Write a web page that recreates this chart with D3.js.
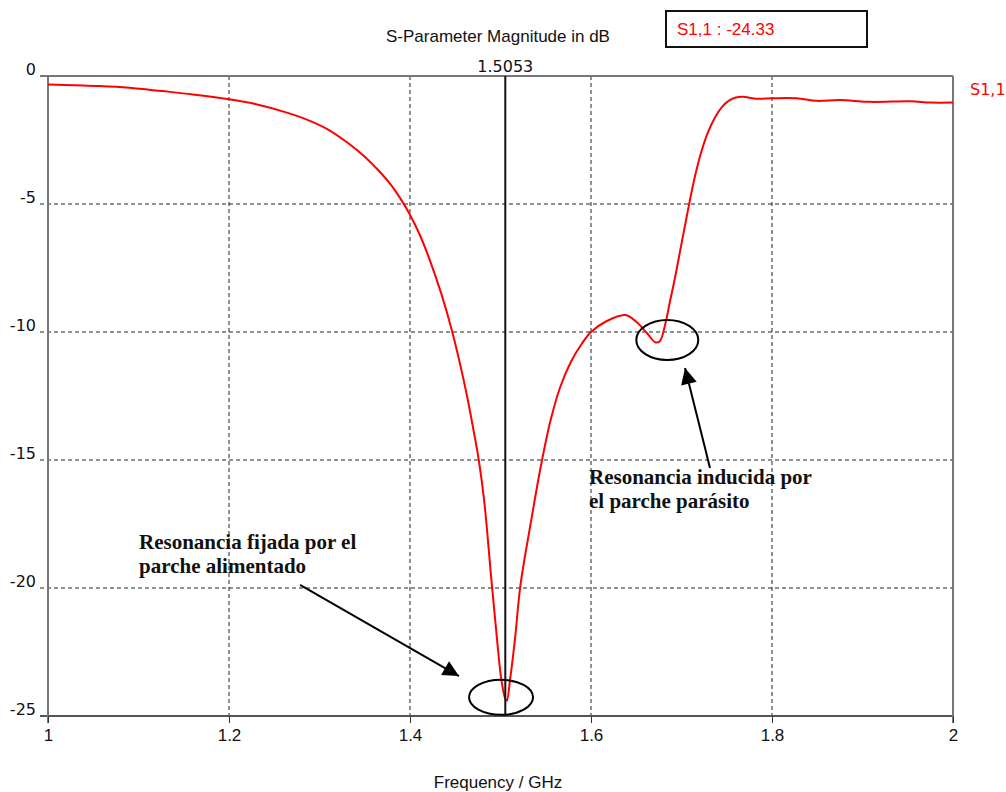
<!DOCTYPE html>
<html>
<head>
<meta charset="utf-8">
<script src="https://cdn.jsdelivr.net/npm/d3@7"></script>
<style>
  html, body { margin: 0; padding: 0; background: #fff; }
  svg { display: block; }
  .narrow { font-family: "Liberation Sans", Arial, sans-serif; }
  .wide { font-family: "DejaVu Sans", Verdana, sans-serif; }
  .note { font-family: "Liberation Serif", "Times New Roman", serif; font-weight: bold; }
</style>
</head>
<body>
<svg id="chart" width="1006" height="792"></svg>
<script>
// S11 reflection coefficient of the stacked patch antenna (dB vs GHz)
const freqGHz = [
  1.000, 1.030, 1.057, 1.090, 1.126, 1.160, 1.200, 1.230, 1.264, 1.290,
  1.310, 1.330, 1.350, 1.365, 1.380, 1.390, 1.400, 1.411, 1.422, 1.435,
  1.446, 1.455, 1.463, 1.470, 1.476, 1.482, 1.490, 1.496, 1.501, 1.5053,
  1.507, 1.5105, 1.516, 1.522, 1.533, 1.544, 1.555, 1.566, 1.578, 1.590,
  1.600, 1.617, 1.638, 1.650, 1.662, 1.671, 1.676, 1.682, 1.687, 1.693,
  1.700, 1.706, 1.711, 1.716, 1.722, 1.729, 1.737, 1.745, 1.752, 1.760,
  1.768, 1.783, 1.800, 1.827, 1.849, 1.875, 1.908, 1.953, 1.975, 2.000
];
const s11dB = [
  -0.33, -0.36, -0.39, -0.46, -0.59, -0.72, -0.91, -1.10, -1.43, -1.76,
  -2.10, -2.58, -3.15, -3.68, -4.30, -4.82, -5.42, -6.22, -7.20, -8.55,
  -9.90, -11.20, -12.50, -13.80, -15.00, -16.60, -19.70, -21.95, -23.60, -24.33,
  -24.40, -23.60, -22.00, -19.90, -17.55, -15.35, -13.50, -12.15, -11.15, -10.45,
  -10.00, -9.58, -9.34, -9.60, -10.05, -10.40, -10.36, -9.70, -8.85, -7.85,
  -6.55, -5.45, -4.55, -3.75, -2.95, -2.22, -1.62, -1.20, -0.97, -0.84,
  -0.81, -0.89, -0.87, -0.87, -0.97, -0.94, -1.01, -0.99, -1.04, -1.04
];
const xTicks = [1, 1.2, 1.4, 1.6, 1.8, 2];
const xTickLabels = ["1", "1.2", "1.4", "1.6", "1.8", "2"];
const yTicks = [0, -5, -10, -15, -20, -25];
const yTickLabels = ["0", "-5", "-10", "-15", "-20", "-25"];

const markerFreq = 1.5053;
const markerValue = -24.33;

const chartTitle = "S-Parameter Magnitude in dB";
const xTitle = "Frequency / GHz";
const seriesName = "S1,1";

// annotations in data units: ellipse centres, arrows and captions
const ellipses = [
  { f: 1.5006, db: -24.27, rx: 32, ry: 17.5 },
  { f: 1.6843, db: -10.31, rx: 31, ry: 20 }
];
const arrows = [
  { f0: 1.2785, db0: -19.88, f1: 1.4541, db1: -23.44 },
  { f0: 1.7315, db0: -15.31, f1: 1.7039, db1: -11.41 }
];
const captions = [
  { f: 1.1006, db: -18.48, lines: ["Resonancia fijada por el", "parche alimentado"] },
  { f: 1.5978, db: -15.92, lines: ["Resonancia inducida por", "el parche parásito"] }
];

const svg = d3.select("#chart");
const plotL = 48, plotR = 953, plotT = 76, plotB = 716;

const x = d3.scaleLinear().domain([1, 2]).range([plotL, plotR]);
const y = d3.scaleLinear().domain([-25, 0]).range([plotB, plotT]);

// dashed grid
const grid = svg.append("g");
grid.selectAll("line.gx").data(xTicks.slice(1, -1)).join("line")
  .attr("x1", d => x(d)).attr("x2", d => x(d))
  .attr("y1", plotT).attr("y2", plotB)
  .attr("stroke", "#222").attr("stroke-width", 1).attr("stroke-dasharray", "4,3");
grid.selectAll("line.gy").data(yTicks.slice(1, -1)).join("line")
  .attr("x1", plotL - 8).attr("x2", plotR)
  .attr("y1", d => y(d)).attr("y2", d => y(d))
  .attr("stroke", "#222").attr("stroke-width", 1).attr("stroke-dasharray", "4,3");

// frame
svg.append("line").attr("x1", plotL - 8).attr("x2", plotR).attr("y1", y(0)).attr("y2", y(0))
  .attr("stroke", "#777").attr("stroke-width", 2);
svg.append("line").attr("x1", plotL - 8).attr("x2", plotR).attr("y1", y(-25)).attr("y2", y(-25))
  .attr("stroke", "#555").attr("stroke-width", 2);
svg.append("line").attr("x1", x(1)).attr("x2", x(1)).attr("y1", plotT).attr("y2", plotB + 7)
  .attr("stroke", "#777").attr("stroke-width", 2);
svg.append("line").attr("x1", x(2)).attr("x2", x(2)).attr("y1", plotT).attr("y2", plotB + 7)
  .attr("stroke", "#777").attr("stroke-width", 2);

// x axis ticks and labels
const xAxis = d3.axisBottom(x).tickValues(xTicks).tickSize(7)
  .tickFormat((d, i) => xTickLabels[i]);
const gx = svg.append("g").attr("transform", `translate(0,${plotB})`).call(xAxis);
gx.select(".domain").remove();
gx.selectAll(".tick line").attr("stroke", "#333").attr("stroke-width", 1);
gx.selectAll(".tick text").attr("class", "narrow").attr("font-size", 17)
  .attr("fill", "#111").attr("dy", null).attr("y", 25);

// y axis labels sit just above their grid lines
const yAxis = d3.axisLeft(y).tickValues(yTicks).tickSize(0)
  .tickFormat((d, i) => yTickLabels[i]);
const gy = svg.append("g").attr("transform", `translate(${plotL - 12},0)`).call(yAxis);
gy.select(".domain").remove();
gy.selectAll(".tick text").attr("class", "wide").attr("font-size", 16)
  .attr("fill", "#111").attr("dy", "-0.1em").attr("x", 0);

// S11 trace
const pts = freqGHz.map((f, i) => [f, s11dB[i]]);
const line = d3.line().x(d => x(d[0])).y(d => y(d[1])).curve(d3.curveCatmullRom.alpha(0.5));
svg.append("path").datum(pts).attr("d", line)
  .attr("fill", "none").attr("stroke", "#ff0000").attr("stroke-width", 2);

// marker line
svg.append("line").attr("x1", x(markerFreq)).attr("x2", x(markerFreq))
  .attr("y1", plotT).attr("y2", plotB).attr("stroke", "#111").attr("stroke-width", 2);
svg.append("text").attr("class", "wide").attr("x", x(markerFreq)).attr("y", plotT - 4)
  .attr("text-anchor", "middle").attr("font-size", 16).attr("fill", "#111")
  .text(d3.format(".4f")(markerFreq));

// marker readout box
svg.append("rect").attr("x", 666).attr("y", 11).attr("width", 201).attr("height", 36)
  .attr("fill", "#fff").attr("stroke", "#111").attr("stroke-width", 2);
svg.append("text").attr("class", "narrow").attr("x", 677).attr("y", 35)
  .attr("font-size", 17).attr("fill", "#ff0000")
  .text(`${seriesName} : ${markerValue.toFixed(2)}`);

// titles
svg.append("text").attr("class", "narrow").attr("x", 498).attr("y", 42)
  .attr("text-anchor", "middle").attr("font-size", 17).attr("fill", "#111").text(chartTitle);
svg.append("text").attr("class", "narrow").attr("x", 498).attr("y", 788)
  .attr("text-anchor", "middle").attr("font-size", 17).attr("fill", "#111").text(xTitle);
svg.append("text").attr("class", "wide").attr("x", 970).attr("y", 95)
  .attr("font-size", 16).attr("fill", "#ff0000").text(seriesName);

// annotations
svg.append("defs").append("marker")
  .attr("id", "head").attr("viewBox", "0 0 10 10").attr("refX", 10).attr("refY", 5)
  .attr("markerWidth", 10).attr("markerHeight", 8).attr("markerUnits", "strokeWidth")
  .attr("orient", "auto")
  .append("path").attr("d", "M0,0 L10,5 L0,10 Z").attr("fill", "#000");

svg.selectAll("ellipse.ring").data(ellipses).join("ellipse")
  .attr("cx", d => x(d.f)).attr("cy", d => y(d.db)).attr("rx", d => d.rx).attr("ry", d => d.ry)
  .attr("fill", "none").attr("stroke", "#000").attr("stroke-width", 2);

svg.selectAll("line.arrow").data(arrows).join("line")
  .attr("x1", d => x(d.f0)).attr("y1", d => y(d.db0))
  .attr("x2", d => x(d.f1)).attr("y2", d => y(d.db1))
  .attr("stroke", "#000").attr("stroke-width", 2).attr("marker-end", "url(#head)");

captions.forEach(c => {
  const t = svg.append("text").attr("class", "note").attr("font-size", 21).attr("fill", "#111")
    .attr("x", x(c.f)).attr("y", y(c.db));
  c.lines.forEach((s, i) => {
    t.append("tspan").attr("x", x(c.f)).attr("dy", i === 0 ? 0 : 24).text(s);
  });
});
</script>
</body>
</html>
